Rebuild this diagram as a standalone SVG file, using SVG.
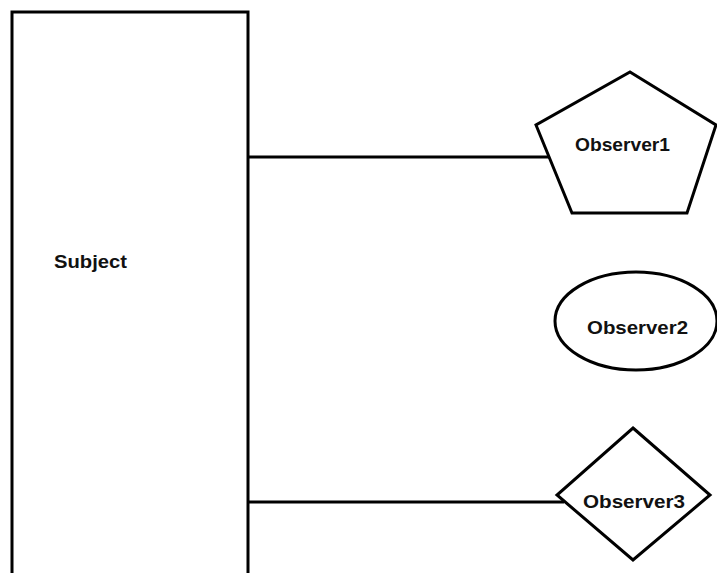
<svg xmlns="http://www.w3.org/2000/svg" width="717" height="573" viewBox="0 0 717 573">
<style>
.s{fill:#fff;stroke:#000;stroke-width:3;stroke-linejoin:miter}
.c{stroke:#000;stroke-width:3;fill:none}
.t{font-family:"Liberation Sans",Arial,sans-serif;font-weight:bold;font-size:19px;fill:#111}
</style>
<rect width="717" height="573" fill="#fff"/>
<g id="connectors">
<line class="c" x1="248" y1="157" x2="555" y2="157"/>
<line class="c" x1="248" y1="502" x2="564" y2="502"/>
</g>
<g id="subject">
<path class="s" d="M12,575 L12,12 L248,12 L248,575"/>
<text class="t" x="54" y="268" textLength="73" lengthAdjust="spacingAndGlyphs">Subject</text>
</g>
<g id="observer1">
<polygon class="s" points="630,72 716,125 687,213 572,213 536,125"/>
<text class="t" x="575" y="151" textLength="95" lengthAdjust="spacingAndGlyphs">Observer1</text>
</g>
<g id="observer2">
<ellipse class="s" cx="636" cy="321" rx="81" ry="49"/>
<text class="t" x="587" y="334" textLength="101" lengthAdjust="spacingAndGlyphs">Observer2</text>
</g>
<g id="observer3">
<polygon class="s" points="633,428 710,495 633,560 557,495"/>
<text class="t" x="583" y="508" textLength="102" lengthAdjust="spacingAndGlyphs">Observer3</text>
</g>
</svg>
